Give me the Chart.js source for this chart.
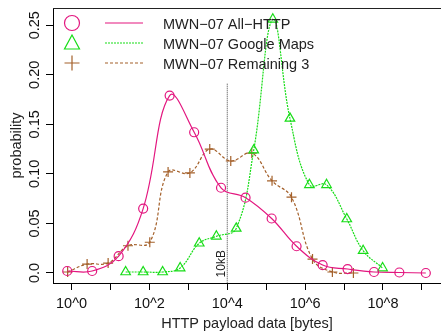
<!DOCTYPE html>
<html>
<head>
<meta charset="utf-8">
<script src="https://cdn.jsdelivr.net/npm/chart.js@4.4.1/dist/chart.umd.min.js"></script>
<style>
html, body { margin: 0; padding: 0; background: #fff; overflow: hidden; }
canvas { display: block; }
</style>
</head>
<body>
<canvas id="chart" width="441" height="334"></canvas>
<script>
// series names (legend)
var seriesNames = ["MWN\u221207 All\u2212HTTP", "MWN\u221207 Google Maps", "MWN\u221207 Remaining 3"];

// x values are log10(bytes)
var allHttpX = [-0.11, 0.53, 1.21, 1.84, 2.52, 3.15, 3.84, 4.47, 5.14, 5.78, 6.45, 7.09, 7.77, 8.42, 9.10];
var allHttpY = [0.002, 0.002, 0.017, 0.065, 0.179, 0.142, 0.086, 0.076, 0.055, 0.027, 0.008, 0.004, 0.001, 0.0005, 0.0];

var mapsX = [1.39, 1.84, 2.34, 2.79, 3.28, 3.72, 4.23, 4.68, 5.17, 5.61, 6.11, 6.55, 7.07, 7.49, 7.99];
var mapsY = [0.001, 0.001, 0.001, 0.005, 0.030, 0.037, 0.045, 0.124, 0.256, 0.156, 0.089, 0.089, 0.0545, 0.0225, 0.005];

var restX = [-0.10, 0.40, 0.94, 1.45, 2.01, 2.48, 3.04, 3.55, 4.09, 4.63, 5.15, 5.65, 6.19, 6.70, 7.24];
var restY = [0.001, 0.009, 0.010, 0.0275, 0.031, 0.102, 0.101, 0.125, 0.113, 0.121, 0.093, 0.0765, 0.014, 0.001, 0.0];

var xTickValues = [0, 1, 2, 3, 4, 5, 6, 7, 8, 9];
var xTickLabels = ["10^0", "", "10^2", "", "10^4", "", "10^6", "", "10^8", ""];
var yTickValues = [0, 0.05, 0.10, 0.15, 0.20, 0.25];
var yTickLabels = ["0.0", "0.05", "0.10", "0.15", "0.20", "0.25"];

// 10kB marker
var cutoffX = [4, 4];
var cutoffY = [0.191, -0.02];
var cutoffLabel = "10kB";

var pink = "#E3167F";
var green = "#17DD17";
var brown = "#A4602A";
var sans = "'Liberation Sans', Arial, Helvetica, sans-serif";

var toPoints = function (xs, ys) {
    return xs.map(function (x, i) { return {x: x, y: ys[i]}; });
};

var styles = [
    {color: pink, dash: [], point: "circle", r: 4.5},
    {color: green, dash: [2, 1], point: "triangle", r: 5.5},
    {color: brown, dash: [3, 2], point: "cross", r: 5}
];

var makeSet = function (idx, xs, ys) {
    var s = styles[idx];
    return {
        label: seriesNames[idx],
        data: toPoints(xs, ys),
        borderColor: s.color,
        borderWidth: 1.2,
        borderDash: s.dash,
        tension: 0.4,
        pointStyle: s.point,
        pointRadius: s.r,
        pointBorderColor: s.color,
        pointBackgroundColor: "rgba(0,0,0,0)",
        pointBorderWidth: 1.2,
        fill: false
    };
};

//Legend + top border + 10kB text
var extras = {
    id: "extras",
    afterDatasetsDraw: function (chart) {
        var ctx = chart.ctx;
        var area = chart.chartArea;
        var xs = chart.scales.x, ys = chart.scales.y;
        ctx.save();
        // top border line
        ctx.strokeStyle = "#222";
        ctx.lineWidth = 1;
        ctx.beginPath();
        ctx.moveTo(area.left, area.top + 0.5);
        ctx.lineTo(area.right, area.top + 0.5);
        ctx.stroke();

        // 10kB label
        ctx.fillStyle = "#222";
        ctx.font = "12px " + sans;
        ctx.textAlign = "left";
        ctx.textBaseline = "middle";
        ctx.translate(xs.getPixelForValue(cutoffX[0]) - 6, ys.getPixelForValue(-0.0045));
        ctx.rotate(-Math.PI / 2);
        ctx.fillText(cutoffLabel, 0, 0);
        ctx.restore();

        // legend
        ctx.save();
        var symX = area.left + 19, lineL = area.left + 52, lineR = area.left + 90, textX = area.left + 110;
        for (var i = 0; i < 3; i++) {
            var s = styles[i];
            var y = area.top + 15 + i * 20;
            ctx.strokeStyle = s.color;
            ctx.lineWidth = 1.2;
            ctx.setLineDash([]);
            ctx.beginPath();
            if (s.point === "circle") {
                ctx.arc(symX, y, 7.5, 0, Math.PI * 2);
            } else if (s.point === "triangle") {
                ctx.moveTo(symX, y - 8);
                ctx.lineTo(symX + 7.5, y + 6);
                ctx.lineTo(symX - 7.5, y + 6);
                ctx.closePath();
            } else {
                ctx.moveTo(symX - 7.5, y);
                ctx.lineTo(symX + 7.5, y);
                ctx.moveTo(symX, y - 7.5);
                ctx.lineTo(symX, y + 7.5);
            }
            ctx.stroke();
            ctx.setLineDash(s.dash);
            ctx.beginPath();
            ctx.moveTo(lineL, y);
            ctx.lineTo(lineR, y);
            ctx.stroke();
            ctx.setLineDash([]);
            ctx.fillStyle = "#222";
            ctx.font = "14.5px " + sans;
            ctx.textAlign = "left";
            ctx.textBaseline = "middle";
            ctx.fillText(seriesNames[i], textX, y + 1.5);
        }
        ctx.restore();
    }
};

var chart = new Chart("chart", {
    type: "line",
    data: {
        datasets: [
            makeSet(0, allHttpX, allHttpY),
            makeSet(1, mapsX, mapsY),
            makeSet(2, restX, restY),
            {
                label: cutoffLabel,
                data: toPoints(cutoffX, cutoffY),
                borderColor: "#444",
                borderWidth: 1,
                borderDash: [1, 1],
                pointRadius: 0,
                tension: 0
            }
        ]
    },
    options: {
        responsive: false,
        animation: false,
        layout: {autoPadding: false, padding: {top: 8, right: 0, bottom: 0, left: 0}},
        plugins: {legend: {display: false}, tooltip: {enabled: false}},
        scales: {
            x: {
                type: "linear",
                min: -0.476,
                max: 9.49,
                afterBuildTicks: function (s) { s.ticks = xTickValues.map(function (v) { return {value: v}; }); },
                afterFit: function (s) { s.height = 51; },
                grid: {drawOnChartArea: false, tickLength: 7, color: "#000", tickColor: "#000"},
                border: {color: "#000", width: 1},
                ticks: {
                    autoSkip: false, maxRotation: 0, padding: 5, color: "#111",
                    font: {family: sans, size: 14.5},
                    callback: function (v, i) { return xTickLabels[i]; }
                },
                title: {display: true, text: "HTTP payload data [bytes]", color: "#222",
                        font: {family: sans, size: 14.5}, padding: {top: 0, bottom: 1}}
            },
            y: {
                min: -0.0101,
                max: 0.2674,
                afterBuildTicks: function (s) { s.ticks = yTickValues.map(function (v) { return {value: v}; }); },
                afterFit: function (s) { s.width = 53; },
                grid: {drawOnChartArea: false, tickLength: 7, color: "#000", tickColor: "#000"},
                border: {color: "#000", width: 1},
                ticks: {
                    autoSkip: false, minRotation: 90, maxRotation: 90, padding: -3, crossAlign: "center",
                    color: "#111", font: {family: sans, size: 14.5},
                    callback: function (v, i) { return yTickLabels[i]; }
                },
                title: {display: true, text: "probability", color: "#222",
                        font: {family: sans, size: 14.5}, padding: {top: 8, bottom: 0}}
            }
        }
    },
    plugins: [extras]
});
</script>
</body>
</html>
